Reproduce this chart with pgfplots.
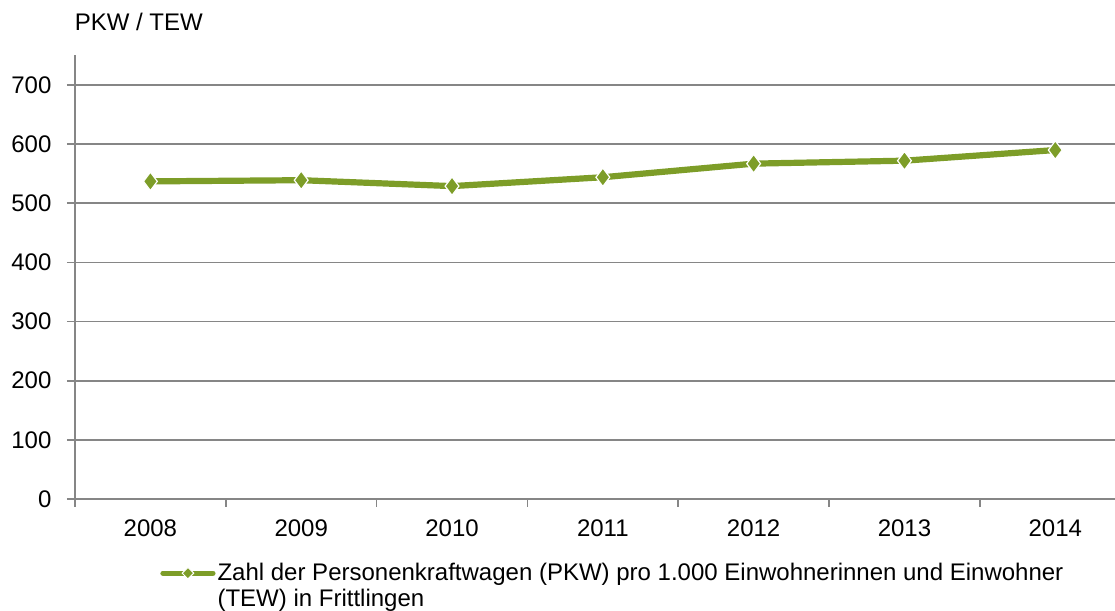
\documentclass[border=0pt]{standalone}
\usepackage{fontspec}
\setmainfont{Liberation Sans}
\usepackage{pgfplots}
\pgfplotsset{compat=1.18}
\definecolor{pgreen}{RGB}{125,157,40}
\definecolor{pgray}{RGB}{134,134,134}
\begin{document}
\fontsize{12}{13}\selectfont
\begin{tikzpicture}
\useasboundingbox (0,0) rectangle (557.5pt,305.5pt);
\node[anchor=base west, inner sep=0pt] at (37.2pt,290.2pt) {PKW / TEW};
\begin{axis}[
  at={(37.5pt,56pt)}, anchor=south west,
  scale only axis, width=520pt, height=222pt,
  xmin=-0.5, xmax=6.396, ymin=0, ymax=750.7,
  axis x line*=bottom, axis y line*=left,
  axis line style={pgray, line width=1pt},
  ytick={0,100,...,700},
  ymajorgrids, grid style={pgray, line width=0.8pt},
  xtick={-0.5,0.5,...,5.5}, xticklabels={},
  extra x ticks={0,1,2,3,4,5,6},
  extra x tick labels={2008,2009,2010,2011,2012,2013,2014},
  extra x tick style={major tick length=0pt, grid=none},
  tick align=outside, major tick length=4pt,
  tick style={pgray, line width=0.8pt},
  /pgf/number format/assume math mode=true,
  yticklabel style={xshift=-3.6pt},
  xticklabel style={yshift=-6.2pt},
  legend cell align=left,
  legend style={draw=none, fill=none, inner sep=0pt,
    at={(axis description cs:0.0817,-0.138)}, anchor=north west,
    nodes={inner sep=1pt, align=left},
    legend image code/.code={
      \draw[pgreen, line width=2.6pt, line cap=round] (0pt,6.5pt) -- (25pt,6.5pt);
      \filldraw[fill=pgreen, draw=white, line width=0.5pt] (12.5pt,9.4pt) -- (15.4pt,6.5pt) -- (12.5pt,3.6pt) -- (9.6pt,6.5pt) -- cycle;}},
]
\addplot[color=pgreen, line width=3.1pt, mark=diamond*, mark size=4.6pt,
  mark options={fill=pgreen, draw=white, line width=0.6pt}]
  coordinates {(0,537) (1,539) (2,529) (3,544) (4,567) (5,572) (6,590)};
\addlegendentry{Zahl der Personenkraftwagen (PKW) pro 1.000 Einwohnerinnen und Einwohner\\(TEW) in Frittlingen}
\end{axis}
\end{tikzpicture}
\end{document}
